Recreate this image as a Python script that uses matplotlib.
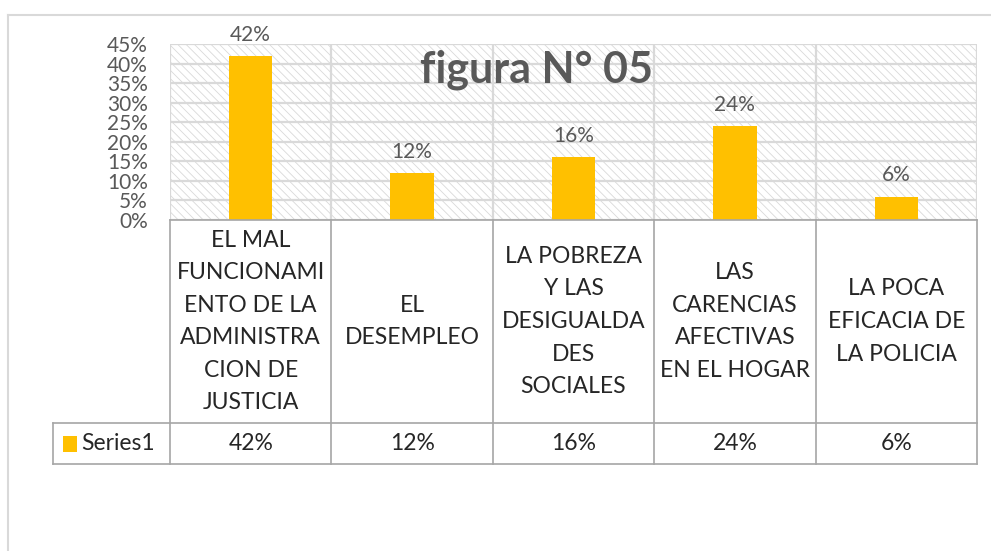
import matplotlib
matplotlib.use("Agg")
import matplotlib.pyplot as plt
from matplotlib.patches import Rectangle
from matplotlib.lines import Line2D
from matplotlib.ticker import FuncFormatter

# data
categories = [
    "EL MAL\nFUNCIONAMI\nENTO DE LA\nADMINISTRA\nCION DE\nJUSTICIA",
    "EL\nDESEMPLEO",
    "LA POBREZA\nY LAS\nDESIGUALDA\nDES\nSOCIALES",
    "LAS\nCARENCIAS\nAFECTIVAS\nEN EL HOGAR",
    "LA POCA\nEFICACIA DE\nLA POLICIA",
]
values = [0.42, 0.12, 0.16, 0.24, 0.06]
value_labels = ["42%", "12%", "16%", "24%", "6%"]
series_name = "Series1"
y_ticks = [0.00, 0.05, 0.10, 0.15, 0.20, 0.25, 0.30, 0.35, 0.40, 0.45]
title = "figura N° 05"

BAR = "#FFC000"
GRID = "#D9D9D9"
TXT = "#595959"
TABLE_LINE = "#A6A6A6"
TABLE_TXT = "#262626"

plt.rcParams["font.family"] = ["Lato", "DejaVu Sans"]
plt.rcParams["hatch.linewidth"] = 0.6

W, H = 991, 551
fig = plt.figure(figsize=(W / 100, H / 100), dpi=100)

def fx(px):
    return px / W

def fy(py):
    return 1 - py / H

# outer chart border (top and left visible)
fig.add_artist(Line2D([fx(8), fx(991)], [fy(15), fy(15)], color=GRID, lw=1.5))
fig.add_artist(Line2D([fx(8), fx(8)], [fy(15), fy(551)], color=GRID, lw=1.5))

# bar plot area
ax = fig.add_axes([fx(170), fy(220), fx(977) - fx(170), fy(44) - fy(220)])
n = len(categories)
x = list(range(n))
ax.set_xlim(-0.5, n - 0.5)
ax.set_ylim(0, 0.45)

# hatched background
ax.add_patch(Rectangle((0, 0), 1, 1, transform=ax.transAxes, facecolor="white",
                       edgecolor=GRID, hatch="\\\\\\\\", lw=0, zorder=0))
for t in y_ticks:
    ax.axhline(t, color=GRID, lw=1.6, zorder=1)
for b in range(n + 1):
    ax.axvline(b - 0.5, color=GRID, lw=1.6, zorder=1)

ax.bar(x, values, width=0.27, color=BAR, zorder=2)
for xi, v, lab in zip(x, values, value_labels):
    ax.annotate(lab, (xi, v), xytext=(0, 8), textcoords="offset points",
                ha="center", va="bottom", fontsize=15, color=TXT, clip_on=False)

for s in ax.spines.values():
    s.set_visible(False)
ax.set_yticks(y_ticks)
ax.yaxis.set_major_formatter(FuncFormatter(lambda v, p: f"{v * 100:.0f}%"))
ax.tick_params(axis="y", length=0, pad=16, labelsize=15, labelcolor=TXT)
ax.set_xticks([])

fig.text(fx(536), fy(83), title, ha="center", va="baseline", fontsize=31,
         fontweight="bold", color=TXT)

# data table below
axt = fig.add_axes([fx(170), fy(464), fx(977) - fx(170), fy(220) - fy(464)])
axt.set_xlim(-0.5, n - 0.5)
axt.set_ylim(0, 244)
axt.axis("off")
row_split = 41
lkw = dict(color=TABLE_LINE, lw=1.2, clip_on=False)
axt.plot([-0.5, n - 0.5], [244, 244], **lkw)
axt.plot([-1.225, n - 0.5], [row_split, row_split], **lkw)
axt.plot([-1.225, n - 0.5], [0, 0], **lkw)
axt.plot([-1.225, -1.225], [0, row_split], **lkw)
for b in range(n + 1):
    axt.plot([b - 0.5, b - 0.5], [0, 244], **lkw)

for xi, cat, lab in zip(x, categories, value_labels):
    axt.text(xi, (244 + row_split) / 2, cat, ha="center", va="center",
             fontsize=16.5, color=TABLE_TXT, linespacing=1.68)
    axt.text(xi, row_split / 2, lab, ha="center", va="center",
             fontsize=16.5, color=TABLE_TXT)

# legend key in the table
axt.add_patch(Rectangle((-1.165, row_split / 2 - 8), 0.09, 16, facecolor=BAR,
                        lw=0, clip_on=False))
axt.text(-1.05, row_split / 2, series_name, ha="left", va="center",
         fontsize=16.5, color=TABLE_TXT)

fig.savefig("out.png", dpi=100)
